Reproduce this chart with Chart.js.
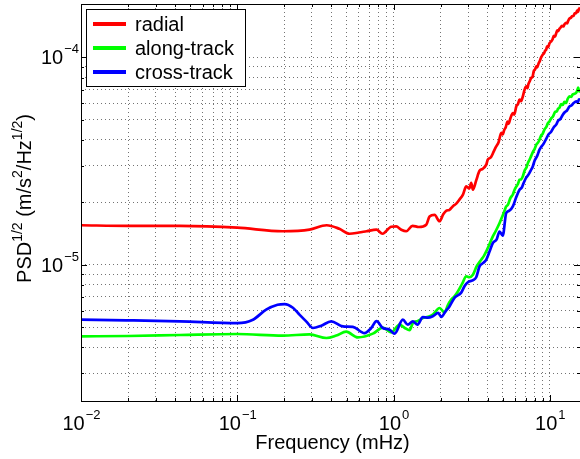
<!DOCTYPE html>
<html>
<head>
<meta charset="utf-8">
<script src="https://cdn.jsdelivr.net/npm/chart.js@4.4.0/dist/chart.umd.min.js"></script>
<style>
  html, body { margin: 0; padding: 0; background: #fff; }
</style>
</head>
<body>
<canvas id="psdChart" width="580" height="459"></canvas>
<script>
// Frequencies in mHz, amplitude spectral density in m/s^2/Hz^(1/2)
const radialFreq = [0.01, 0.02, 0.043, 0.1, 0.195, 0.29, 0.373, 0.45, 0.523, 0.6, 0.672, 0.778, 0.85, 0.967, 1.04, 1.12, 1.206, 1.323, 1.45, 1.619, 1.70, 1.83, 1.97, 2.08, 2.17, 2.28, 2.39, 2.52, 2.64, 2.78, 2.92, 3.05, 3.14, 3.22, 3.38, 3.55, 3.72, 3.92, 4.01, 4.2, 4.38, 4.54, 4.7, 4.89, 5.0, 5.1, 5.23, 5.36, 5.45, 5.55, 5.68, 5.80, 5.92, 6.1, 6.25, 6.40, 6.55, 6.72, 6.9, 7.06, 7.18, 7.3, 7.45, 7.60, 7.75, 7.9, 8.05, 8.18, 8.3, 8.45, 8.59, 8.8, 9.0, 9.2, 9.35, 9.48, 9.6, 9.75, 9.95, 10.15, 10.4, 10.6, 10.8, 10.99, 11.15, 11.3, 11.5, 11.7, 11.95, 12.2, 12.45, 12.7, 12.9, 13.1, 13.35, 13.6, 13.9, 14.2, 14.45, 14.75, 14.95, 15.15, 15.35, 15.6];
const radialPsd = [1.55e-5, 1.54e-5, 1.54e-5, 1.51e-5, 1.45e-5, 1.475e-5, 1.55e-5, 1.49e-5, 1.41e-5, 1.43e-5, 1.45e-5, 1.475e-5, 1.41e-5, 1.525e-5, 1.53e-5, 1.475e-5, 1.45e-5, 1.54e-5, 1.52e-5, 1.56e-5, 1.71e-5, 1.74e-5, 1.62e-5, 1.75e-5, 1.82e-5, 1.84e-5, 1.91e-5, 1.97e-5, 2.06e-5, 2.18e-5, 2.39e-5, 2.33e-5, 2.48e-5, 2.30e-5, 2.55e-5, 2.84e-5, 2.90e-5, 3.04e-5, 3.21e-5, 3.30e-5, 3.52e-5, 3.72e-5, 3.90e-5, 4.32e-5, 4.25e-5, 4.45e-5, 4.62e-5, 4.90e-5, 4.78e-5, 4.98e-5, 5.25e-5, 5.39e-5, 5.30e-5, 5.80e-5, 5.95e-5, 6.25e-5, 6.15e-5, 6.49e-5, 7.00e-5, 7.25e-5, 7.10e-5, 7.45e-5, 7.70e-5, 7.96e-5, 8.05e-5, 8.60e-5, 8.75e-5, 9.05e-5, 8.95e-5, 9.30e-5, 9.54e-5, 1.00e-4, 1.03e-4, 1.05e-4, 1.08e-4, 1.09e-4, 1.13e-4, 1.12e-4, 1.17e-4, 1.19e-4, 1.22e-4, 1.27e-4, 1.26e-4, 1.31e-4, 1.35e-4, 1.34e-4, 1.37e-4, 1.39e-4, 1.42e-4, 1.41e-4, 1.45e-4, 1.47e-4, 1.46e-4, 1.50e-4, 1.54e-4, 1.55e-4, 1.58e-4, 1.59e-4, 1.63e-4, 1.64e-4, 1.68e-4, 1.66e-4, 1.71e-4, 1.74e-4];

const alongFreq = [0.01, 0.02, 0.043, 0.1, 0.195, 0.29, 0.372, 0.43, 0.498, 0.591, 0.737, 0.854, 0.967, 1.092, 1.18, 1.266, 1.329, 1.43, 1.54, 1.66, 1.784, 1.97, 2.12, 2.22, 2.34, 2.46, 2.58, 2.75, 2.92, 3.05, 3.22, 3.4, 3.64, 3.78, 3.92, 4.1, 4.32, 4.5, 4.77, 4.95, 5.1, 5.26, 5.4, 5.6, 5.80, 5.95, 6.1, 6.25, 6.40, 6.55, 6.72, 6.9, 7.1, 7.25, 7.42, 7.6, 7.8, 8.0, 8.2, 8.4, 8.59, 8.8, 9.0, 9.25, 9.5, 9.7, 9.95, 10.2, 10.5, 10.8, 11.1, 11.3, 11.53, 11.8, 12.1, 12.4, 12.7, 13.0, 13.37, 13.7, 14.0, 14.4, 14.75, 15.0, 15.2, 15.4, 15.6];
const alongPsd = [4.51e-6, 4.53e-6, 4.58e-6, 4.63e-6, 4.55e-6, 4.61e-6, 4.43e-6, 4.55e-6, 4.75e-6, 4.46e-6, 4.65e-6, 4.97e-6, 4.71e-6, 5.14e-6, 4.95e-6, 4.83e-6, 5.23e-6, 5.35e-6, 5.53e-6, 5.60e-6, 5.74e-6, 6.18e-6, 5.87e-6, 6.35e-6, 6.78e-6, 7.05e-6, 7.43e-6, 8.10e-6, 8.78e-6, 8.70e-6, 8.95e-6, 9.80e-6, 1.057e-5, 1.10e-5, 1.159e-5, 1.25e-5, 1.37e-5, 1.45e-5, 1.589e-5, 1.70e-5, 1.80e-5, 1.91e-5, 1.95e-5, 2.10e-5, 2.18e-5, 2.30e-5, 2.38e-5, 2.45e-5, 2.57e-5, 2.58e-5, 2.67e-5, 2.85e-5, 2.95e-5, 3.10e-5, 3.21e-5, 3.35e-5, 3.50e-5, 3.62e-5, 3.80e-5, 3.88e-5, 4.01e-5, 4.20e-5, 4.28e-5, 4.50e-5, 4.62e-5, 4.80e-5, 4.91e-5, 5.08e-5, 5.20e-5, 5.45e-5, 5.50e-5, 5.66e-5, 5.72e-5, 5.95e-5, 5.90e-5, 6.10e-5, 6.03e-5, 6.30e-5, 6.49e-5, 6.45e-5, 6.62e-5, 6.68e-5, 6.76e-5, 6.95e-5, 7.15e-5, 6.85e-5, 6.98e-5];

const crossFreq = [0.01, 0.0195, 0.043, 0.1, 0.126, 0.153, 0.181, 0.201, 0.227, 0.25, 0.276, 0.305, 0.345, 0.399, 0.474, 0.549, 0.652, 0.72, 0.778, 0.854, 0.943, 1.015, 1.147, 1.234, 1.329, 1.424, 1.54, 1.66, 1.784, 1.93, 2.02, 2.15, 2.28, 2.46, 2.71, 2.85, 2.99, 3.2, 3.38, 3.55, 3.75, 3.92, 4.12, 4.32, 4.56, 4.77, 5.00, 5.26, 5.5, 5.80, 6.1, 6.40, 6.6, 6.8, 7.06, 7.3, 7.55, 7.78, 8.0, 8.3, 8.59, 8.8, 9.1, 9.48, 9.8, 10.2, 10.6, 10.99, 11.3, 11.7, 12.11, 12.5, 12.9, 13.37, 13.8, 14.2, 14.75, 15.1, 15.35, 15.6];
const crossPsd = [5.43e-6, 5.39e-6, 5.33e-6, 5.23e-6, 5.43e-6, 6.07e-6, 6.41e-6, 6.46e-6, 6.20e-6, 5.74e-6, 5.33e-6, 4.95e-6, 5.08e-6, 5.33e-6, 5.04e-6, 5.01e-6, 4.68e-6, 4.95e-6, 5.34e-6, 4.95e-6, 4.86e-6, 4.65e-6, 5.43e-6, 5.14e-6, 5.33e-6, 5.14e-6, 5.58e-6, 5.55e-6, 5.64e-6, 5.85e-6, 5.60e-6, 5.95e-6, 6.29e-6, 6.93e-6, 7.33e-6, 7.90e-6, 8.23e-6, 8.40e-6, 8.70e-6, 9.81e-6, 1.02e-5, 1.057e-5, 1.16e-5, 1.273e-5, 1.32e-5, 1.443e-5, 1.38e-5, 1.776e-5, 1.82e-5, 1.91e-5, 2.12e-5, 2.30e-5, 2.35e-5, 2.48e-5, 2.63e-5, 2.72e-5, 2.85e-5, 2.98e-5, 3.18e-5, 3.35e-5, 3.59e-5, 3.70e-5, 3.82e-5, 4.05e-5, 4.25e-5, 4.38e-5, 4.60e-5, 4.74e-5, 4.95e-5, 5.05e-5, 5.29e-5, 5.45e-5, 5.55e-5, 5.80e-5, 5.88e-5, 6.02e-5, 6.14e-5, 6.05e-5, 6.28e-5, 6.25e-5];

const seriesNames = ['radial', 'along-track', 'cross-track'];
const seriesColors = ['#ff0000', '#00ff00', '#0000ff'];

const xLimits = [0.01, 15.6];
const yLimits = [2.2e-6, 1.81e-4];
const xMajor = [0.01, 0.1, 1, 10];
const yMajor = [1e-5, 1e-4];

const SANS = '"Liberation Sans", Arial, Helvetica, sans-serif';

// 1..9 x 10^k inside [lo, hi], used for the dotted grid and minor ticks
function decadeSteps(lo, hi) {
  const out = [];
  for (let k = Math.floor(Math.log10(lo)); k <= Math.ceil(Math.log10(hi)); k++) {
    for (let m = 1; m <= 9; m++) {
      const v = m * Math.pow(10, k);
      if (v >= lo * 0.9999 && v <= hi * 1.0001) out.push(v);
    }
  }
  return out;
}

function toPoints(fs, vs) {
  return fs.map((f, i) => ({ x: f, y: vs[i] }));
}

function isMajor(v) {
  const e = Math.log10(v);
  return Math.abs(e - Math.round(e)) < 1e-6;
}

// draws "10" with a raised exponent; align is 'center' or 'right'
function powerLabel(ctx, x, y, exp, align) {
  const sup = exp < 0 ? '\u2212' + Math.abs(exp) : String(exp);
  ctx.font = '20px ' + SANS;
  const wb = ctx.measureText('10').width;
  ctx.font = '13px ' + SANS;
  const ws = ctx.measureText(sup).width;
  const left = align === 'center' ? x - (wb + ws) / 2 : x - wb - ws;
  ctx.textAlign = 'left';
  ctx.textBaseline = 'alphabetic';
  ctx.font = '20px ' + SANS;
  ctx.fillText('10', left, y);
  ctx.font = '13px ' + SANS;
  ctx.fillText(sup, left + wb + 1, y - 11);
}

const frame = {
  id: 'frame',
  afterDraw(chart) {
    const { ctx, chartArea: a, scales } = chart;
    const xs = scales.x, ys = scales.y;
    ctx.save();

    // box
    ctx.strokeStyle = '#000';
    ctx.lineWidth = 1;
    ctx.strokeRect(Math.round(a.left) + 0.5, Math.round(a.top) + 0.5,
      Math.round(a.right - a.left), Math.round(a.bottom - a.top));

    // inward ticks on all four sides
    ctx.beginPath();
    decadeSteps(xLimits[0], xLimits[1]).forEach(v => {
      const px = Math.round(xs.getPixelForValue(v)) + 0.5;
      const len = isMajor(v) ? 6 : 3;
      ctx.moveTo(px, a.bottom); ctx.lineTo(px, a.bottom - len);
      ctx.moveTo(px, a.top); ctx.lineTo(px, a.top + len);
    });
    decadeSteps(yLimits[0], yLimits[1]).forEach(v => {
      const py = Math.round(ys.getPixelForValue(v)) + 0.5;
      const len = isMajor(v) ? 6 : 3;
      ctx.moveTo(a.left, py); ctx.lineTo(a.left + len, py);
      ctx.moveTo(a.right, py); ctx.lineTo(a.right - len, py);
    });
    ctx.stroke();

    // tick labels
    ctx.fillStyle = '#000';
    xMajor.forEach(v => powerLabel(ctx, xs.getPixelForValue(v), a.bottom + 29, Math.round(Math.log10(v)), 'center'));
    yMajor.forEach(v => powerLabel(ctx, a.left - 3, ys.getPixelForValue(v) + 7, Math.round(Math.log10(v)), 'right'));

    // axis titles
    ctx.font = '20px ' + SANS;
    ctx.textAlign = 'center';
    ctx.textBaseline = 'alphabetic';
    ctx.fillText('Frequency (mHz)', (a.left + a.right) / 2 + 2, a.bottom + 48);

    const parts = [
      { t: 'PSD' }, { t: '1/2', sup: true }, { t: ' (m/s' }, { t: '2', sup: true },
      { t: '/Hz' }, { t: '1/2', sup: true }, { t: ')' }
    ];
    const fontOf = p => (p.sup ? '14px ' : '20px ') + SANS;
    let total = 0;
    parts.forEach(p => { ctx.font = fontOf(p); p.w = ctx.measureText(p.t).width; total += p.w; });
    ctx.save();
    ctx.translate(31, (a.top + a.bottom) / 2 - 4);
    ctx.rotate(-Math.PI / 2);
    ctx.textAlign = 'left';
    let cx = -total / 2;
    parts.forEach(p => {
      ctx.font = fontOf(p);
      ctx.fillText(p.t, cx, p.sup ? -9 : 0);
      cx += p.w;
    });
    ctx.restore();

    // legend
    const lx = a.left + 5, ly = a.top + 5, lw = 159, lh = 77;
    ctx.fillStyle = '#fff';
    ctx.fillRect(lx, ly, lw, lh);
    ctx.strokeStyle = '#000';
    ctx.lineWidth = 1;
    ctx.strokeRect(lx + 0.5, ly + 0.5, lw, lh);
    ctx.font = '20px ' + SANS;
    ctx.textAlign = 'left';
    chart.data.datasets.forEach((ds, i) => {
      const y = ly + 15 + i * 24;
      ctx.strokeStyle = ds.borderColor;
      ctx.lineWidth = 4;
      ctx.beginPath();
      ctx.moveTo(lx + 7, y);
      ctx.lineTo(lx + 40, y);
      ctx.stroke();
      ctx.fillStyle = '#000';
      ctx.fillText(ds.label, lx + 49, y + 7);
    });

    ctx.restore();
  }
};

const gridStyle = {
  color: 'rgba(0,0,0,0.55)',
  lineWidth: 1,
  drawTicks: false
};

new Chart(document.getElementById('psdChart'), {
  type: 'line',
  data: {
    datasets: [
      { label: seriesNames[0], data: toPoints(radialFreq, radialPsd), borderColor: seriesColors[0], order: 3 },
      { label: seriesNames[1], data: toPoints(alongFreq, alongPsd), borderColor: seriesColors[1], order: 2 },
      { label: seriesNames[2], data: toPoints(crossFreq, crossPsd), borderColor: seriesColors[2], order: 1 }
    ].map(ds => Object.assign(ds, {
      borderWidth: 2.7, pointRadius: 0, fill: false, cubicInterpolationMode: 'monotone'
    }))
  },
  options: {
    responsive: false,
    animation: false,
    devicePixelRatio: 1,
    layout: { padding: { top: 4, right: 0, bottom: 0, left: 0 } },
    plugins: { legend: { display: false }, tooltip: { enabled: false } },
    scales: {
      x: {
        type: 'logarithmic',
        min: xLimits[0],
        max: xLimits[1],
        afterBuildTicks: s => { s.ticks = decadeSteps(xLimits[0], xLimits[1]).map(v => ({ value: v })); },
        afterFit: s => { s.height = 58; },
        ticks: { display: false },
        grid: gridStyle,
        border: { display: false, dash: [1, 3] }
      },
      y: {
        type: 'logarithmic',
        min: yLimits[0],
        max: yLimits[1],
        afterBuildTicks: s => { s.ticks = decadeSteps(yLimits[0], yLimits[1]).map(v => ({ value: v })); },
        afterFit: s => { s.width = 81; },
        ticks: { display: false },
        grid: gridStyle,
        border: { display: false, dash: [1, 3] }
      }
    }
  },
  plugins: [frame]
});
</script>
</body>
</html>
